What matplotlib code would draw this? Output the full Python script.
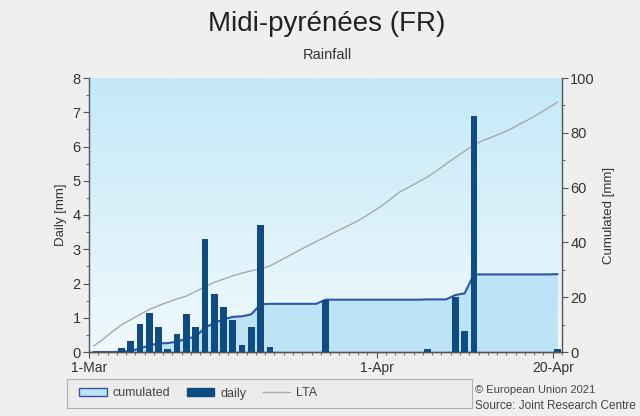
import numpy as np
import matplotlib
matplotlib.use("Agg")
import matplotlib.pyplot as plt
from matplotlib.patches import Patch
from matplotlib.lines import Line2D
from matplotlib.colors import LinearSegmentedColormap

plt.rcParams['font.family'] = ['Liberation Sans', 'DejaVu Sans']

# ---- data (Mar 1 .. Apr 20) ----
daily = [0, 0, 0, 0.13, 0.32, 0.83, 1.13, 0.74, 0.10, 0.52,
         1.10, 0.72, 3.31, 1.69, 1.30, 0.93, 0.20, 0.72, 3.70, 0.14,
         0, 0, 0, 0, 0, 1.51, 0, 0, 0, 0,
         0, 0, 0, 0, 0, 0, 0.10, 0, 0, 1.60,
         0.62, 6.90, 0, 0, 0, 0, 0, 0, 0, 0,
         0.10]
lta = [2.2, 4.6, 7.4, 9.9, 11.8, 13.7, 15.5, 16.9, 18.2, 19.4,
       20.4, 22.1, 23.8, 25.4, 26.6, 27.8, 28.8, 29.6, 30.4, 31.4,
       33.2, 35.0, 36.8, 38.6, 40.3, 42.0, 43.7, 45.4, 47.0, 48.9,
       51.0, 53.2, 55.8, 58.4, 60.2, 62.0, 63.9, 66.2, 68.6, 71.0,
       73.3, 75.6, 77.2, 78.5, 79.9, 81.4, 83.3, 85.0, 87.0, 89.0,
       91.2]
tick_pos = [0, 31, 50]
tick_labels = ['1-Mar', '1-Apr', '20-Apr']

daily = np.array(daily)
cumulated = np.cumsum(daily)
x = np.arange(len(daily)) + 0.5

W, H = 640, 416
fig = plt.figure(figsize=(W / 100, H / 100), dpi=100)
fig.patch.set_facecolor('#efefef')

ax = fig.add_axes([89 / W, 1 - 352 / H, (562 - 89) / W, (352 - 78) / H])
ax2 = ax.twinx()
ax.set_zorder(ax2.get_zorder() + 1)
ax.patch.set_visible(False)

# gradient background
cmap = LinearSegmentedColormap.from_list('bg', ['#f0f9fd', '#c4e9f8'])
grad = np.linspace(0, 1, 256).reshape(-1, 1)
ax2.imshow(grad, aspect='auto', cmap=cmap, origin='lower',
           extent=[0, 51, 0, 100], zorder=0)

# cumulated area on right axis
ax2.fill_between(x, cumulated, 0, color='#bde3f6', zorder=1, linewidth=0)
ax2.plot(x, cumulated, color='#2f55a8', lw=1.5, zorder=2)
ax2.plot(x, lta, color='#a7a9ab', lw=1.0, zorder=2)
ax2.set_ylim(0, 100)
ax2.set_yticks([0, 20, 40, 60, 80, 100])
ax2.set_yticks(np.arange(10, 100, 20), minor=True)
ax2.set_ylabel('Cumulated [mm]', fontsize=9.5, color='#333333', labelpad=6)

# daily bars
ax.bar(x, daily, width=0.72, color='#0f4c81', zorder=3)
ax.set_ylim(0, 8)
ax.set_xlim(0, 51)
ax.set_yticks(range(0, 9))
ax.set_yticks(np.arange(0.5, 8, 1), minor=True)
ax.set_xticks(tick_pos)
ax.set_xticklabels(tick_labels)
ax.set_xticks(np.arange(0, 52), minor=True)
ax.set_ylabel('Daily [mm]', fontsize=9.5, color='#333333', labelpad=4)

for a in (ax, ax2):
    a.spines['top'].set_visible(False)
    for s in a.spines.values():
        s.set_color('#555555')
        s.set_linewidth(1.0)
    a.tick_params(which='major', length=4, color='#555555', labelsize=10.5,
                  labelcolor='#333333', pad=2)
    a.tick_params(which='minor', length=2.5, color='#555555')
ax.spines['right'].set_visible(False)
ax2.spines['left'].set_visible(False)
ax.tick_params(axis='x', which='major', pad=2.5, labelsize=10)

# titles
fig.text(0.511, 1 - 24 / H, 'Midi-pyrénées (FR)', ha='center', va='center',
         fontsize=20, color='#222222')
fig.text(0.511, 1 - 55 / H, 'Rainfall', ha='center', va='center',
         fontsize=10.5, color='#333333')

# legend box
lax = fig.add_axes([67 / W, 1 - 408 / H, (472 - 67) / W, 29 / H])
lax.set_xticks([]); lax.set_yticks([])
lax.set_facecolor('#ececec')
for s in lax.spines.values():
    s.set_color('#b0b0b0')
handles = [Patch(facecolor='#bde3f6', edgecolor='#2f55a8', lw=1),
           Patch(facecolor='#0f4c81', edgecolor='#0f4c81'),
           Line2D([0], [0], color='#a7a9ab', lw=1)]
leg = lax.legend(handles, ['cumulated', 'daily', 'LTA'], loc='center left',
                 bbox_to_anchor=(79 / W, 1 - 393.5 / H),
                 bbox_transform=fig.transFigure, ncol=3, frameon=False,
                 fontsize=9, handlelength=2.2, handleheight=0.55,
                 columnspacing=1.3, handletextpad=0.5,
                 borderaxespad=0.0, borderpad=0.0)
for t in leg.get_texts():
    t.set_color('#444444')

fig.text(475 / W, 1 - 390 / H, '© European Union 2021', fontsize=8,
         color='#444444', va='center', ha='left')
fig.text(475 / W, 1 - 406 / H, 'Source: Joint Research Centre', fontsize=8.5,
         color='#444444', va='center', ha='left')

fig.savefig('out.png', dpi=100, facecolor=fig.get_facecolor())
